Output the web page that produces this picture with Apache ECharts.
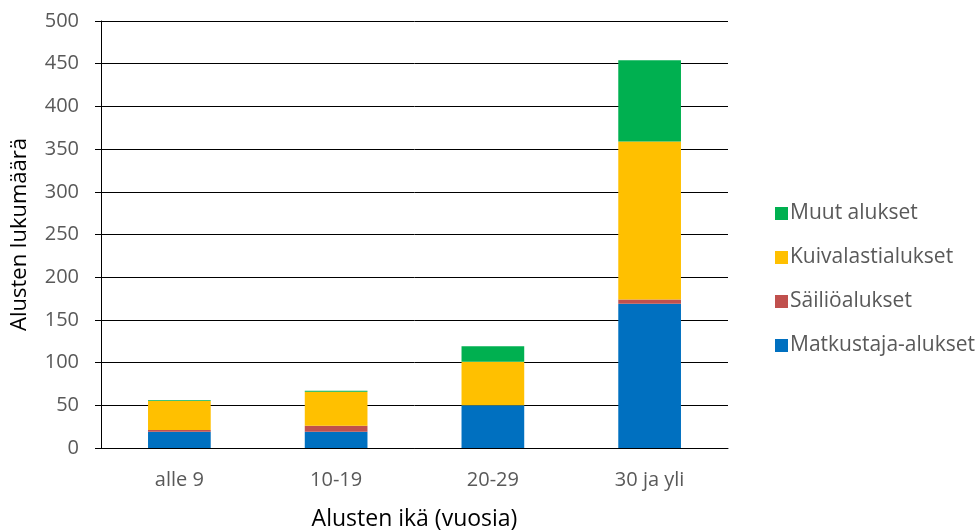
<!DOCTYPE html>
<html>
<head>
<meta charset="utf-8">
<script src="https://cdn.jsdelivr.net/npm/echarts@6/dist/echarts.min.js"></script>
<style>
  html, body { margin: 0; padding: 0; background: #fff; }
  #chart { width: 980px; height: 531px; }
</style>
</head>
<body>
<div id="chart"></div>
<script>
// Vessel counts by age group, stacked by vessel type
const categories = ['alle 9', '10-19', '20-29', '30 ja yli'];
const matkustaja = [19, 19, 50, 169];
const sailio = [2, 7, 0, 5];
const kuivalasti = [34, 40, 51, 185];
const muut = [1, 1, 18, 95];
const yTicks = [0, 50, 100, 150, 200, 250, 300, 350, 400, 450, 500];

const FONT = '"Open Sans", "Liberation Sans", sans-serif';
const chart = echarts.init(document.getElementById('chart'), null, { renderer: 'canvas' });

function bar(name, data, color) {
  return {
    name: name,
    type: 'bar',
    stack: 'total',
    data: data,
    barWidth: '40%',
    itemStyle: { color: color },
    emphasis: { disabled: true }
  };
}

chart.setOption({
  animation: false,
  textStyle: { fontFamily: FONT },
  grid: { left: 101, right: 252, top: 21, bottom: 83, containLabel: false, outerBoundsMode: 'none' },
  legend: {
    orient: 'vertical',
    left: 770,
    top: 198,
    itemWidth: 13,
    itemHeight: 13,
    itemGap: 23,
    icon: 'rect',
    data: ['Muut alukset', 'Kuivalastialukset', 'Säiliöalukset', 'Matkustaja-alukset'],
    textStyle: { fontFamily: FONT, fontSize: 21, color: '#595959', padding: [0, 0, 0, -3] }
  },
  xAxis: {
    type: 'category',
    data: categories,
    name: 'Alusten ikä (vuosia)',
    nameLocation: 'middle',
    nameGap: 60,
    nameTextStyle: { fontFamily: FONT, fontSize: 23, color: '#000' },
    axisLine: { show: true, lineStyle: { color: '#000', width: 1 } },
    axisTick: { show: false },
    axisLabel: { fontFamily: FONT, fontSize: 20, color: '#595959', margin: 22 }
  },
  yAxis: {
    type: 'value',
    min: 0,
    max: 500,
    interval: 50,
    name: 'Alusten lukumäärä',
    nameLocation: 'middle',
    nameGap: 70,
    nameRotate: 90,
    nameTextStyle: { fontFamily: FONT, fontSize: 22, color: '#000' },
    axisLine: { show: true, lineStyle: { color: '#000', width: 1 } },
    axisTick: { show: true, length: 6, inside: false, lineStyle: { color: '#000' } },
    axisLabel: {
      fontFamily: FONT, fontSize: 20, color: '#595959', margin: 22,
      formatter: function (v) { return yTicks.indexOf(v) >= 0 ? String(v) : ''; }
    },
    splitLine: { show: true, lineStyle: { color: '#000', width: 1 } }
  },
  series: [
    bar('Matkustaja-alukset', matkustaja, '#0070C0'),
    bar('Säiliöalukset', sailio, '#C0504D'),
    bar('Kuivalastialukset', kuivalasti, '#FFC000'),
    bar('Muut alukset', muut, '#00B050')
  ]
});
</script>
</body>
</html>
